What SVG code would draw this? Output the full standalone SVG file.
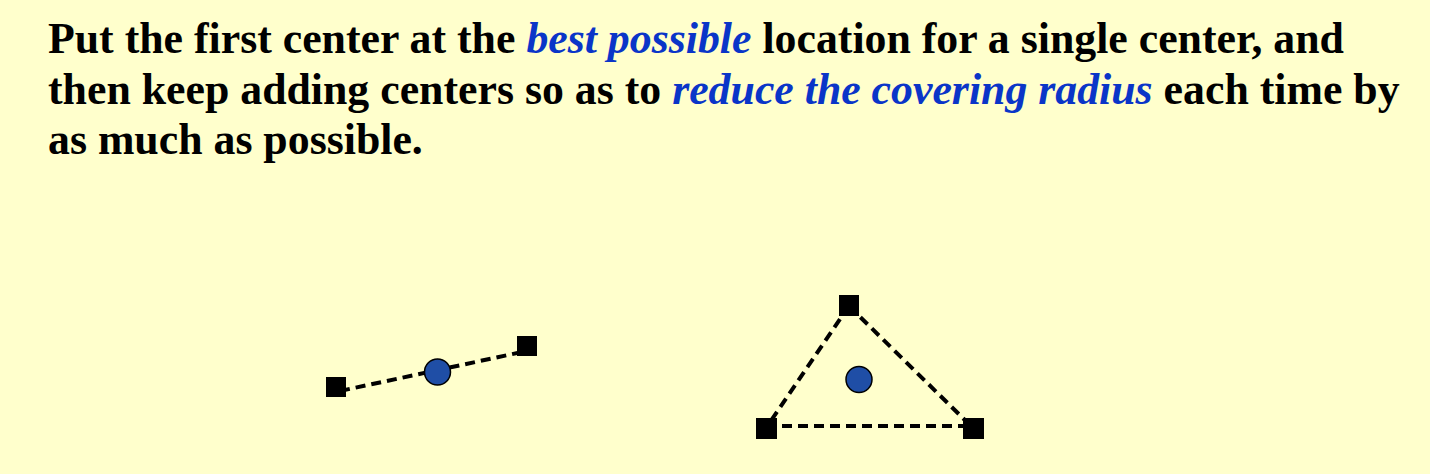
<svg xmlns="http://www.w3.org/2000/svg" width="1430" height="474" viewBox="0 0 1430 474">
<style>
.t{font-family:"Liberation Serif","Times New Roman",serif;font-weight:bold;font-size:43.8px;fill:#000}
.em{font-style:italic;fill:#0a35c8}
.dash{stroke:#000;stroke-width:4;stroke-dasharray:10 6;fill:none}
.pt{fill:#000}
.ctr{fill:#1f4ea6;stroke:#000;stroke-width:1.5}
</style>
<rect width="1430" height="474" fill="#ffffcc"/>
<g id="text">
<text class="t" x="48" y="53" xml:space="preserve">Put the first center at the <tspan class="em">best possible</tspan> location for a single center, and</text>
<text class="t" x="48" y="104" xml:space="preserve">then keep adding centers so as to <tspan class="em">reduce the covering radius</tspan> each time by</text>
<text class="t" x="48" y="154" xml:space="preserve">as much as possible.</text>
</g>
<g id="connectors">
<line class="dash" x1="340" y1="391" x2="522" y2="352"/>
<line class="dash" x1="849" y1="306" x2="766" y2="428"/>
<line class="dash" x1="849" y1="306" x2="973" y2="428"/>
<line class="dash" x1="766" y1="426" x2="973" y2="426"/>
</g>
<g id="node-a1"><rect class="pt" x="326" y="377" width="20" height="20"/></g>
<g id="node-a2"><rect class="pt" x="517" y="336" width="20" height="20"/></g>
<g id="center-a"><circle class="ctr" cx="437.5" cy="372" r="13"/></g>
<g id="node-b1"><rect class="pt" x="839" y="295" width="20" height="21"/></g>
<g id="node-b2"><rect class="pt" x="756" y="418" width="21" height="21"/></g>
<g id="node-b3"><rect class="pt" x="963" y="418" width="21" height="21"/></g>
<g id="center-b"><circle class="ctr" cx="859" cy="379.5" r="13"/></g>
</svg>
